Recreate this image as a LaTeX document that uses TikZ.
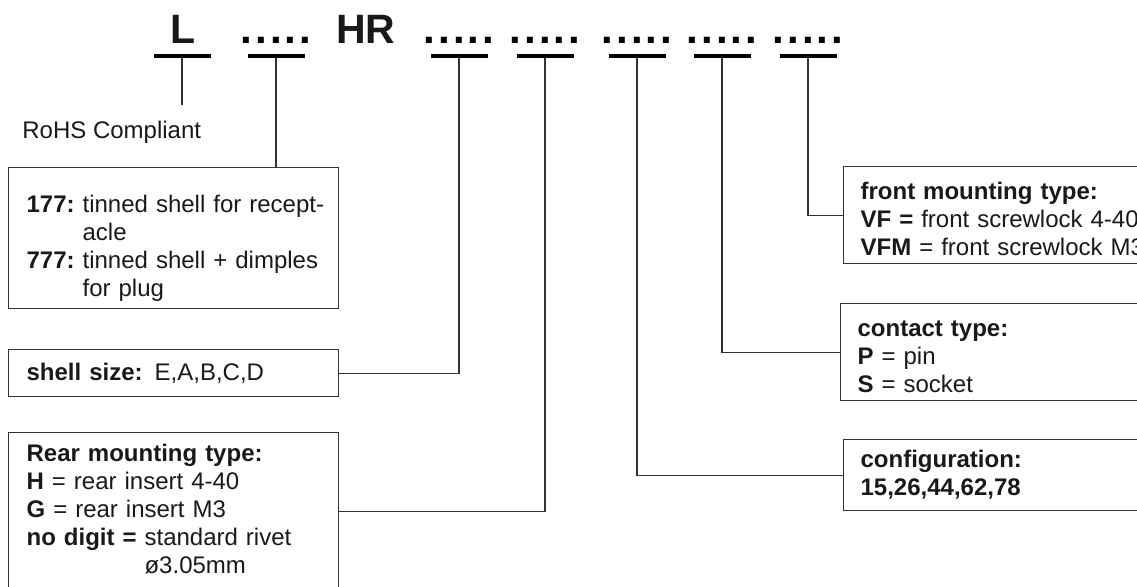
\documentclass[tikz,border=0pt]{standalone}
\usepackage{fontspec}
\setmainfont{Liberation Sans}
\tikzset{
  code/.style={font=\fontsize{20.5}{24}\selectfont\bfseries,anchor=base,inner sep=0pt,text=black!90},
  dots/.style={font=\fontsize{21}{24}\selectfont\bfseries\addfontfeature{LetterSpace=7},anchor=base,inner sep=0pt},
  bar/.style={fill=black,inner sep=0pt,minimum width=28.5pt,minimum height=1.6pt},
  infobox/.style={draw=black!80,line width=0.6pt,anchor=north west,align=left,inner xsep=9pt,inner ysep=0pt,text width=147pt,font=\fontsize{12}{14}\selectfont,text=black!90},
  lead/.style={line width=0.6pt,black!80},
}
\begin{document}
\begin{tikzpicture}[x=0.5pt,y=-0.5pt]
                \useasboundingbox (0,0) rectangle (1137,586);
                \clip (0,0) rectangle (1137,586);
                %% part number
                \node[code] (pL) at (183,43) {L};
                \node[dots] (pd1) at (276,43) {.....};
                \node[code] (pHR) at (366,43) {HR};
                \node[dots] (pd2) at (459,43) {.....};
                \node[dots] (pd3) at (545,43) {.....};
                \node[dots] (pd4) at (637,43) {.....};
                \node[dots] (pd5) at (722,43) {.....};
                \node[dots] (pd6) at (808,43) {.....};
                \foreach \n/\x in {1/182,2/276,3/459,4/545,5/637,6/722,7/808}
                    \node[bar] (b\n) at (\x,56) {};
                %% left side
                \node[anchor=base west,inner xsep=0pt,inner ysep=7.8pt,font=\fontsize{12}{14}\selectfont,text=black!90] (rohs) at (22,138) {RoHS Compliant};
                \node[infobox,minimum height=70.5pt] (tin) at (8,167) {\begin{tabular}{@{}l@{\ }l@{}}\noalign{\vskip 11pt}\textbf{177:} & tinned shell for recept-\\ & acle\\ \textbf{777:} & tinned shell + dimples\\ & for plug\end{tabular}};
                \node[infobox,minimum height=23.5pt] (shell) at (8,349) {\textbf{shell size:} E,A,B,C,D};
                \node[infobox,minimum height=79pt] (rear) at (8,432) {\textbf{Rear mounting type:}\\ \textbf{H} = rear insert 4-40\\ \textbf{G} = rear insert M3\\ \textbf{no digit =} standard rivet\\ \phantom{\textbf{no digit =} }ø3.05mm};
                %% right side
                \node[infobox,inner xsep=8.5pt,text width=150pt,minimum height=48.5pt] (front) at (843,166) {\rule{0pt}{13pt}\textbf{front mounting type:}\\ \textbf{VF =} front screwlock 4-40\\ \textbf{VFM} = front screwlock M3};
                \node[infobox,inner xsep=8.5pt,text width=150pt,minimum height=48.5pt] (contact) at (840,303) {\rule{0pt}{13pt}\textbf{contact type:}\\ \textbf{P} = pin\\ \textbf{S} = socket};
                \node[infobox,inner xsep=8.5pt,text width=150pt,minimum height=35.5pt] (config) at (843,439) {\textbf{configuration:}\\ \textbf{15,26,44,62,78}};
                %% leads
                \draw[lead] (b1.south) -- (b1.south |- rohs.north);
                \draw[lead] (b2.south) -- (b2.south |- tin.north);
                \draw[lead] (b3.south) |- (shell.east);
                \draw[lead] (b4.south) |- (rear.east);
                \draw[lead] (b5.south) |- (config.west);
                \draw[lead] (b6.south) |- (contact.west);
                \draw[lead] (b7.south) |- (front.west);
\end{tikzpicture}
\end{document}
